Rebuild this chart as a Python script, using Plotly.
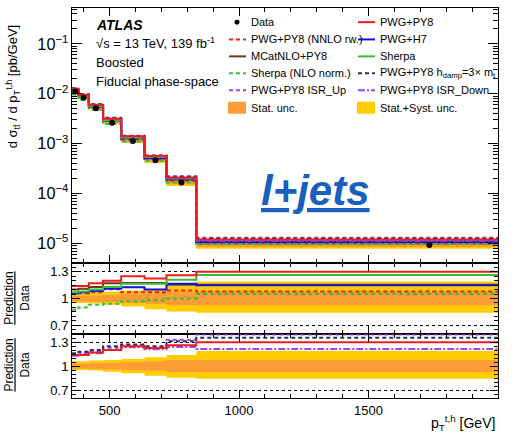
import plotly.graph_objects as go

# ---- binning and measured cross-section ----
edges = [355, 380, 420, 475, 545, 635, 720, 835, 2000]
data = [1.11e-2, 8.3e-3, 5.15e-3, 2.63e-3, 1.13e-3, 4.63e-4, 1.66e-4, 9.25e-6]
data_x = [367.5, 400, 447.5, 510, 590, 677.5, 777.5, 1735]

# relative uncertainties of the data
stat_unc = [0.03, 0.03, 0.035, 0.04, 0.05, 0.06, 0.075, 0.075]
tot_up = [0.06, 0.06, 0.07, 0.075, 0.09, 0.11, 0.14, 0.19]
tot_dn = [0.05, 0.05, 0.055, 0.07, 0.09, 0.12, 0.145, 0.16]

# prediction / data ratios
r_pwg_py8 = [1.14, 1.14, 1.17, 1.20, 1.25, 1.225, 1.26, 1.30]
r_nnlo = [1.05, 1.06, 1.07, 1.105, 1.07, 1.07, 1.09, 1.08]
r_mcatnlo = [1.10, 1.11, 1.13, 1.17, 1.175, 1.175, 1.155, 1.155]
r_h7 = [1.06, 1.07, 1.085, 1.11, 1.125, 1.10, 1.165, 1.15]
r_sherpa = [1.07, 1.08, 1.10, 1.13, 1.165, 1.165, 1.21, 1.265]
r_sherpa_nlo = [0.875, 0.90, 0.93, 0.94, 0.97, 0.98, 1.0, 1.05]
r_hdamp = [1.16, 1.18, 1.20, 1.25, 1.27, 1.25, 1.31, 1.355]
r_isr_up = [1.15, 1.17, 1.19, 1.23, 1.26, 1.235, 1.33, 1.395]
r_isr_down = [1.13, 1.15, 1.16, 1.20, 1.235, 1.21, 1.24, 1.215]

RED = "#ee1c1c"
BROWN = "#6b3a1c"
BLUE = "#1010e6"
GREEN = "#33c233"
NAVY = "#23306b"
PURPLE = "#9b45f5"
ORANGE = "#fb9c36"
YELLOW = "#ffcc00"

DASH = "4px,3px"
DASHDOT = "7px,2px,2px,2px"

# (name, ratio, colour, dash, panels)
models = [
    ("PWG+PY8 (NNLO rw.)", r_nnlo, RED, DASH, (1,)),
    ("MCatNLO+PY8", r_mcatnlo, BROWN, "solid", (1,)),
    ("Sherpa (NLO norm.)", r_sherpa_nlo, GREEN, DASH, (1,)),
    ("PWG+PY8 ISR_Up", r_isr_up, PURPLE, DASH, (2,)),
    ("PWG+H7", r_h7, BLUE, "solid", (1,)),
    ("Sherpa", r_sherpa, GREEN, "solid", (1,)),
    ("PWG+PY8 hdamp", r_hdamp, NAVY, DASH, (2,)),
    ("PWG+PY8 ISR_Down", r_isr_down, PURPLE, DASHDOT, (2,)),
    ("PWG+PY8", r_pwg_py8, RED, "solid", (1, 2)),
]

# pixel geometry of the canvas
W, H = 512, 438
L, R, T, B = 72, 498, 7.5, 398.5
Y_MAIN_BOT, Y_R1_BOT = 263.0, 334.5


def py(y):
    return (B - y) / (B - T)


def px(x):
    return (x - L) / (R - L)


def step(vals):
    return list(edges), list(vals) + [vals[-1]]


fig = go.Figure()


def band(lo, hi, color, xa, ya):
    xs, ylo = step(lo)
    _, yhi = step(hi)
    fig.add_trace(go.Scatter(x=xs, y=ylo, mode="lines", line=dict(width=0, shape="hv"),
                             xaxis=xa, yaxis=ya, showlegend=False, hoverinfo="skip"))
    fig.add_trace(go.Scatter(x=xs, y=yhi, mode="lines", line=dict(width=0, shape="hv"),
                             fill="tonexty", fillcolor=color,
                             xaxis=xa, yaxis=ya, showlegend=False, hoverinfo="skip"))


def line(vals, color, dash, xa, ya):
    xs, ys = step(vals)
    fig.add_trace(go.Scatter(x=xs, y=ys, mode="lines",
                             line=dict(color=color, width=2, dash=dash, shape="hv"),
                             xaxis=xa, yaxis=ya, showlegend=False, hoverinfo="skip"))


# main panel: uncertainty bands around data
band([d * (1 - u) for d, u in zip(data, tot_dn)], [d * (1 + u) for d, u in zip(data, tot_up)], YELLOW, "x", "y")
band([d * (1 - u) for d, u in zip(data, stat_unc)], [d * (1 + u) for d, u in zip(data, stat_unc)], ORANGE, "x", "y")
for name, r, c, dsh, panels in models:
    line([d * k for d, k in zip(data, r)], c, dsh, "x", "y")
fig.add_trace(go.Scatter(x=data_x, y=data, mode="markers", marker=dict(color="black", size=6),
                         xaxis="x", yaxis="y", showlegend=False))

# ratio panels
for ya, panel in (("y2", 1), ("y3", 2)):
    xa = "x2" if panel == 1 else "x3"
    band([1 - u for u in tot_dn], [1 + u for u in tot_up], YELLOW, xa, ya)
    band([1 - u for u in stat_unc], [1 + u for u in stat_unc], ORANGE, xa, ya)
    for name, r, c, dsh, panels in models:
        if panel in panels:
            line(r, c, dsh, xa, ya)

FONT = "Liberation Sans, Arial, Helvetica, sans-serif"
axis_common = dict(showline=True, mirror="allticks", linecolor="black", linewidth=1,
                   ticks="inside", tickcolor="black", zeroline=False, showgrid=False)

xcommon = dict(axis_common, range=[355, 2000], tickvals=[500, 1000, 1500, 2000], ticklen=8,
               minor=dict(ticks="inside", ticklen=4, dtick=100, tickcolor="black"))

ratio_axis = dict(axis_common, range=[0.6, 1.4],
                  tickvals=[0.7, 1, 1.3], ticktext=["0.7", "1", "1.3"], ticklen=8,
                  showgrid=True, gridcolor="black", griddash="dot", gridwidth=1,
                  minor=dict(ticks="inside", ticklen=4, dtick=0.05, tickcolor="black"))

fig.update_layout(
    width=W, height=H,
    margin=dict(l=L, r=W - R, t=T, b=H - B),
    paper_bgcolor="white", plot_bgcolor="white",
    font=dict(family=FONT, size=13, color="black"),
    showlegend=False,
    xaxis=dict(xcommon, domain=[0, 1], anchor="y", showticklabels=False),
    xaxis2=dict(xcommon, domain=[0, 1], anchor="y2", matches="x", showticklabels=False),
    xaxis3=dict(xcommon, domain=[0, 1], anchor="y3", matches="x", showticklabels=True,
                tickfont=dict(size=13)),
    yaxis=dict(axis_common, type="log", domain=[py(Y_MAIN_BOT), 1], range=[-5.39, -0.28],
               dtick=1, exponentformat="power", ticklen=10, tickfont=dict(size=13),
               minor=dict(ticks="inside", ticklen=5, dtick="D1", tickcolor="black")),
    yaxis2=dict(ratio_axis, domain=[py(Y_R1_BOT), py(Y_MAIN_BOT)]),
    yaxis3=dict(ratio_axis, domain=[0, py(Y_R1_BOT)]),
)

ann = []


def text(x, y, s, size=13, xanchor="left", **kw):
    ann.append(dict(x=px(x), y=py(y), xref="paper", yref="paper", text=s, showarrow=False,
                    xanchor=xanchor, yanchor="middle", font=dict(size=size, family=FONT,
                                                                 color=kw.pop("color", "black")), **kw))


# labels inside the main panel
text(94, 25, "<b><i>ATLAS</i></b>", size=14)
text(94, 43, "√s = 13 TeV, 139 fb<sup>-1</sup>")
text(94, 62, "Boosted")
text(94, 81, "Fiducial phase-space")
text(315, 190, "<b><i><u>l+jets</u></i></b>", size=42, xanchor="center", color="#1a5fbd")

# axis titles
text(13, 87, "d σ<sub>tt̄</sub> / d p<sub>T</sub><sup>t,h</sup> [pb/GeV]", size=13,
     xanchor="center", textangle=-90)
text(17, 299, "<u>Prediction</u><br>Data", size=12, xanchor="center", textangle=-90)
text(17, 366, "<u>Prediction</u><br>Data", size=12, xanchor="center", textangle=-90)
text(497, 424, "p<sub>T</sub><sup>t,h</sup> [GeV]", size=14, xanchor="right")

# legend
shapes = []
leg_rows = [21.7, 39, 56, 73, 90, 107.5]
left_col = [
    ("Data", None, None, None),
    ("PWG+PY8 (NNLO rw.)", RED, DASH, "line"),
    ("MCatNLO+PY8", BROWN, "solid", "line"),
    ("Sherpa (NLO norm.)", GREEN, DASH, "line"),
    ("PWG+PY8 ISR_Up", PURPLE, DASH, "line"),
    ("Stat. unc.", ORANGE, None, "box"),
]
right_col = [
    ("PWG+PY8", RED, "solid", "line"),
    ("PWG+H7", BLUE, "solid", "line"),
    ("Sherpa", GREEN, "solid", "line"),
    ("PWG+PY8 h<sub>damp</sub>=3× m<sub>t</sub>", NAVY, DASH, "line"),
    ("PWG+PY8 ISR_Down", PURPLE, DASHDOT, "line"),
    ("Stat.+Syst. unc.", YELLOW, None, "box"),
]
for col, x0 in ((left_col, 228), (right_col, 357)):
    for (label, c, dsh, kind), yrow in zip(col, leg_rows):
        if kind == "line":
            shapes.append(dict(type="line", xref="paper", yref="paper", x0=px(x0 + 1), x1=px(x0 + 18),
                               y0=py(yrow), y1=py(yrow), line=dict(color=c, width=2, dash=dsh)))
        elif kind == "box":
            shapes.append(dict(type="rect", xref="paper", yref="paper", x0=px(x0), x1=px(x0 + 18),
                               y0=py(yrow - 6), y1=py(yrow + 6), fillcolor=c, line=dict(width=0)))
        else:
            shapes.append(dict(type="circle", xref="paper", yref="paper", x0=px(x0 + 6.5), x1=px(x0 + 11.5),
                               y0=py(yrow - 2.5), y1=py(yrow + 2.5), fillcolor="black", line=dict(width=0)))
        text(x0 + 21, yrow, label, size=11)

fig.update_layout(annotations=ann, shapes=shapes)
fig.write_html("out.html")
